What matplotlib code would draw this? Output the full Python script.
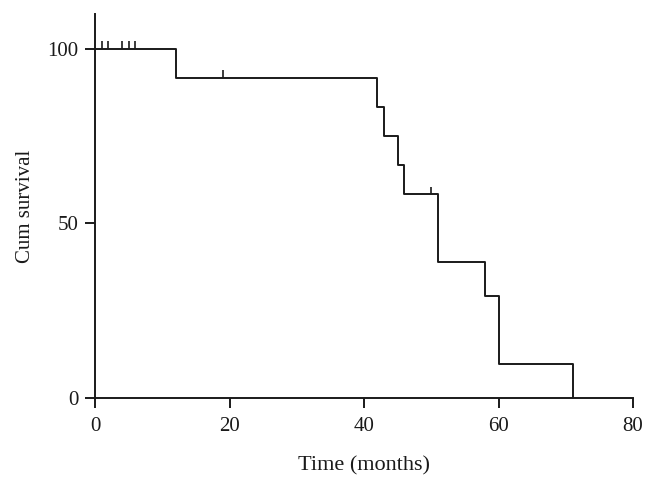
import matplotlib
matplotlib.use("Agg")
import matplotlib.pyplot as plt
import numpy as np

# Kaplan-Meier step data (months, cumulative survival %)
event_times = [0, 12, 42, 43, 45, 46, 51, 58, 60, 71]
survival = [100, 91.7, 83.3, 75.0, 66.7, 58.3, 38.9, 29.2, 9.7, 0]
censor_times = [1, 2, 4, 5, 6, 19, 50]
x_ticks = [0, 20, 40, 60, 80]
y_ticks = [0, 50, 100]

plt.rcParams['font.family'] = ['Liberation Serif', 'DejaVu Serif']

fig = plt.figure(figsize=(6.57, 4.83), dpi=100)
ax = fig.add_axes([0.1446, 0.176, 0.819, 0.795])

col = '#1a1a1a'
ax.step(event_times, survival, where='post', color=col, lw=1.4)

# censor marks at the survival level in effect at each censor time
idx = np.searchsorted(event_times, censor_times, side='right') - 1
levels = np.array(survival)[idx]
ax.vlines(censor_times, levels, levels + 2.2, color=col, lw=1.2)

ax.set_xlim(0, 80)
ax.set_ylim(0, 110)
ax.set_xticks(x_ticks)
ax.set_yticks(y_ticks)
for s in ['top', 'right']:
    ax.spines[s].set_visible(False)
for s in ['left', 'bottom']:
    ax.spines[s].set_linewidth(1.4)
    ax.spines[s].set_color(col)
ax.tick_params(direction='out', length=7, width=1.4, colors=col, labelsize=15)
ax.tick_params(axis='x', pad=7)
ax.tick_params(axis='y', pad=5)
ax.set_xlabel('Time (months)', fontsize=16, color=col, labelpad=14)
ax.set_ylabel('Cum survival', fontsize=15, color=col, labelpad=9)

fig.savefig('out.png', dpi=100)
